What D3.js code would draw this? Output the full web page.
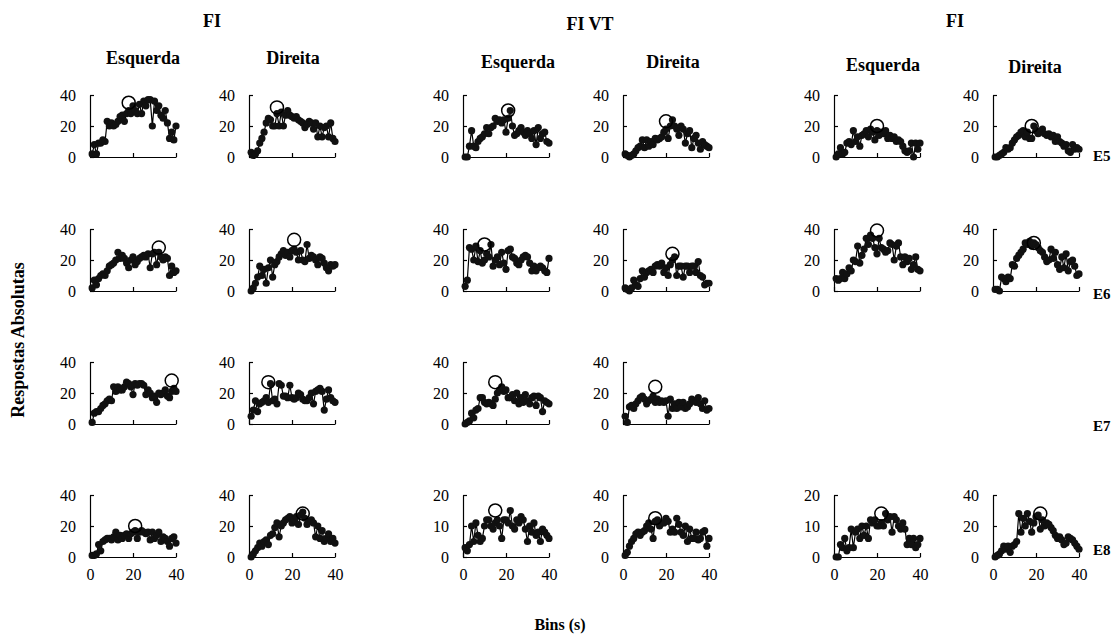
<!DOCTYPE html>
<html>
<head>
<meta charset="utf-8">
<script src="https://cdn.jsdelivr.net/npm/d3@7"></script>
<style>
  body { margin: 0; background: #fff; }
  text { font-family: 'Liberation Serif', 'Times New Roman', serif; fill: #000; }
</style>
</head>
<body>
<div id="chart"></div>
<script>
// headers
let groupTitles = ['FI', 'FI VT', 'FI']
let sideTitles = ['Esquerda', 'Direita', 'Esquerda', 'Direita', 'Esquerda', 'Direita']
let rowLabels = ['E5', 'E6', 'E7', 'E8']
let xTicks = [0, 20, 40]

// responses per bin, one array per panel (FI esq, FI dir, FIVT esq, FIVT dir, FI esq, FI dir)
let e5FiEsq = [2, 8, 2, 9, 9, 11, 10, 23, 20, 22, 20, 21, 23, 26, 27, 23, 28, 30, 28, 33, 30, 28, 34, 28, 36, 33, 37, 37, 20, 36, 30, 33, 27, 25, 30, 22, 12, 16, 11, 20]
let e5FiDir = [3, 1, 2, 4, 9, 12, 16, 22, 25, 24, 20, 20, 28, 20, 29, 20, 27, 30, 27, 26, 25, 26, 24, 23, 22, 19, 21, 23, 22, 18, 22, 13, 20, 13, 19, 20, 13, 22, 12, 10]
let e5VtEsq = [0, 0, 7, 17, 7, 6, 10, 12, 13, 15, 19, 15, 19, 20, 25, 23, 24, 22, 24, 16, 25, 30, 20, 14, 15, 17, 19, 16, 14, 17, 15, 12, 17, 8, 19, 12, 15, 16, 10, 9]
let e5VtDir = [2, 1, 0, 1, 2, 4, 6, 7, 11, 6, 11, 7, 10, 8, 12, 11, 12, 13, 16, 18, 12, 20, 24, 20, 18, 14, 20, 18, 9, 15, 17, 6, 12, 14, 9, 5, 10, 8, 7, 6]
let e5Fi2Esq = [0, 2, 6, 2, 3, 9, 10, 8, 17, 10, 13, 7, 14, 15, 17, 13, 18, 16, 11, 17, 14, 16, 15, 17, 12, 14, 12, 13, 10, 11, 10, 7, 4, 3, 4, 9, 0, 9, 5, 9]
let e5Fi2Dir = [0, 0, 1, 2, 3, 6, 5, 6, 9, 11, 13, 14, 16, 17, 13, 16, 12, 12, 20, 17, 15, 16, 18, 15, 14, 15, 13, 14, 10, 13, 10, 9, 7, 8, 4, 3, 8, 5, 6, 5]

let e6FiEsq = [2, 7, 4, 8, 10, 11, 10, 13, 16, 17, 18, 20, 25, 21, 23, 21, 18, 15, 20, 22, 17, 19, 21, 22, 23, 22, 24, 15, 24, 25, 17, 25, 22, 20, 22, 21, 10, 16, 12, 13]
let e6FiDir = [0, 2, 5, 9, 16, 10, 14, 5, 15, 20, 9, 17, 19, 22, 24, 26, 23, 25, 22, 26, 27, 25, 20, 26, 20, 19, 30, 21, 23, 22, 20, 17, 22, 21, 18, 15, 13, 17, 16, 17]
let e6VtEsq = [3, 7, 28, 27, 20, 29, 19, 26, 18, 20, 24, 22, 30, 16, 20, 22, 17, 25, 18, 14, 26, 27, 22, 21, 18, 17, 20, 22, 23, 22, 18, 13, 16, 13, 15, 16, 15, 13, 12, 21]
let e6VtDir = [2, 1, 0, 2, 7, 4, 3, 8, 13, 9, 12, 13, 14, 12, 16, 17, 16, 18, 12, 15, 10, 17, 20, 22, 10, 16, 16, 9, 16, 16, 12, 16, 16, 12, 19, 10, 9, 4, 5, 5]
let e6Fi2Esq = [8, 7, 8, 12, 8, 11, 15, 13, 20, 19, 29, 18, 23, 27, 34, 30, 36, 34, 28, 24, 34, 28, 27, 25, 26, 31, 30, 20, 29, 31, 22, 17, 22, 19, 21, 14, 17, 22, 14, 13]
let e6Fi2Dir = [1, 1, 0, 9, 8, 6, 9, 8, 17, 16, 21, 23, 25, 27, 31, 30, 32, 29, 31, 30, 28, 26, 25, 22, 19, 20, 27, 21, 25, 17, 14, 22, 15, 24, 13, 19, 20, 16, 10, 11]

let e7FiEsq = [1, 7, 8, 8, 10, 12, 13, 15, 16, 15, 24, 21, 24, 22, 22, 24, 27, 26, 24, 19, 26, 25, 26, 26, 25, 19, 22, 20, 17, 18, 14, 20, 19, 20, 22, 18, 17, 21, 23, 21]
let e7FiDir = [5, 9, 15, 8, 13, 14, 15, 17, 14, 26, 15, 16, 13, 26, 25, 18, 18, 17, 25, 17, 16, 17, 20, 19, 16, 15, 15, 17, 20, 13, 21, 22, 23, 21, 9, 16, 22, 17, 15, 14]
let e7VtEsq = [0, 1, 2, 7, 4, 9, 10, 17, 17, 14, 13, 14, 13, 12, 16, 20, 22, 24, 21, 22, 17, 17, 19, 15, 20, 13, 17, 14, 19, 15, 13, 17, 18, 12, 18, 17, 8, 15, 14, 13]
let e7VtDir = [5, 1, 11, 12, 10, 13, 15, 17, 18, 16, 13, 15, 16, 18, 14, 16, 14, 15, 14, 15, 5, 16, 10, 13, 10, 14, 11, 14, 10, 11, 13, 16, 15, 14, 17, 13, 10, 15, 9, 10]

let e8FiEsq = [1, 1, 2, 8, 4, 10, 11, 12, 12, 11, 13, 16, 11, 14, 12, 14, 15, 12, 15, 16, 17, 12, 16, 17, 16, 15, 16, 11, 16, 12, 14, 16, 10, 13, 12, 10, 7, 12, 13, 9]
let e8FiDir = [0, 2, 4, 6, 9, 7, 10, 11, 8, 14, 15, 19, 22, 13, 20, 22, 24, 25, 26, 22, 24, 26, 21, 27, 29, 25, 21, 23, 24, 22, 13, 20, 12, 17, 10, 12, 15, 10, 12, 9]
let e8VtEsq = [3, 2, 4, 10, 5, 11, 7, 5, 6, 10, 12, 12, 10, 9, 11, 12, 10, 6, 12, 12, 11, 15, 10, 9, 12, 11, 13, 12, 9, 5, 10, 8, 11, 7, 8, 5, 9, 8, 7, 6]
let e8VtDir = [1, 3, 7, 10, 12, 15, 16, 14, 16, 17, 20, 22, 18, 12, 23, 24, 20, 22, 22, 25, 23, 16, 18, 16, 25, 21, 16, 14, 20, 10, 18, 12, 12, 16, 11, 12, 16, 17, 7, 12]
let e8Fi2Esq = [0, 0, 4, 3, 6, 2, 3, 9, 3, 8, 9, 6, 10, 7, 10, 6, 12, 11, 12, 10, 10, 11, 10, 14, 12, 13, 8, 13, 12, 10, 9, 11, 9, 4, 6, 4, 6, 3, 4, 6]
let e8Fi2Dir = [0, 1, 2, 4, 7, 5, 7, 3, 7, 8, 10, 28, 16, 25, 20, 28, 23, 16, 22, 26, 27, 18, 24, 20, 22, 21, 19, 17, 14, 12, 13, 11, 8, 9, 13, 12, 11, 9, 7, 5]

// open circle = peak (bin, responses)
let peaksE5 = [[18, 35], [13, 32], [21, 30], [20, 23], [20, 20], [18, 20]]
let peaksE6 = [[32, 28], [21, 33], [10, 30], [23, 24], [20, 39], [19, 31]]
let peaksE7 = [[38, 28], [9, 27], [15, 27], [15, 24]]
let peaksE8 = [[21, 20], [25, 28], [15, 15], [15, 25], [22, 14], [22, 28]]

let yMaxE5 = [40, 40, 40, 40, 40, 40]
let yMaxE6 = [40, 40, 40, 40, 40, 40]
let yMaxE7 = [40, 40, 40, 40]
let yMaxE8 = [40, 40, 20, 40, 20, 40]

let rows = [
  { series: [e5FiEsq, e5FiDir, e5VtEsq, e5VtDir, e5Fi2Esq, e5Fi2Dir], peaks: peaksE5, yMax: yMaxE5 },
  { series: [e6FiEsq, e6FiDir, e6VtEsq, e6VtDir, e6Fi2Esq, e6Fi2Dir], peaks: peaksE6, yMax: yMaxE6 },
  { series: [e7FiEsq, e7FiDir, e7VtEsq, e7VtDir], peaks: peaksE7, yMax: yMaxE7 },
  { series: [e8FiEsq, e8FiDir, e8VtEsq, e8VtDir, e8Fi2Esq, e8Fi2Dir], peaks: peaksE8, yMax: yMaxE8 }
]

// layout
let colLeft = [90, 249, 463, 623, 834, 993]
let rowTop = [95, 229, 362, 495]
let panelW = 86
let panelH = 62

let svg = d3.select('#chart').append('svg')
  .attr('width', 1120)
  .attr('height', 635)

svg.append('rect').attr('width', 1120).attr('height', 635).attr('fill', '#fff')

let x = d3.scaleLinear().domain([0, 40]).range([0, panelW])

rows.forEach((row, r) => {
  row.series.forEach((values, c) => {
    let y = d3.scaleLinear().domain([0, row.yMax[c]]).range([panelH, 0])
    let g = svg.append('g').attr('transform', `translate(${colLeft[c]},${rowTop[r]})`)

    let xAxis = d3.axisBottom(x)
      .tickValues(xTicks)
      .tickSizeInner(-4)
      .tickSizeOuter(0)
      .tickPadding(12)
    if (r !== rows.length - 1) xAxis.tickFormat('')

    g.append('g')
      .attr('transform', `translate(0,${panelH})`)
      .call(xAxis)

    g.append('g')
      .call(d3.axisLeft(y)
        .tickValues([0, row.yMax[c] / 2, row.yMax[c]])
        .tickSizeInner(-4)
        .tickSizeOuter(0)
        .tickPadding(14))

    g.selectAll('.domain, .tick line').attr('stroke', '#000').attr('stroke-width', 1.2)
    g.selectAll('.tick text')
      .attr('font-size', 16)
      .attr('font-family', "'Liberation Serif', serif")
      .attr('fill', '#000')

    let line = d3.line()
      .x((d, i) => x(i + 1))
      .y(d => y(d))

    g.append('path')
      .datum(values)
      .attr('d', line)
      .attr('fill', 'none')
      .attr('stroke', '#000')
      .attr('stroke-width', 1.2)

    g.selectAll('.dot')
      .data(values)
      .enter().append('circle')
      .attr('cx', (d, i) => x(i + 1))
      .attr('cy', d => y(d))
      .attr('r', 3.6)
      .attr('fill', '#111')

    g.append('circle')
      .attr('cx', x(row.peaks[c][0]))
      .attr('cy', y(row.peaks[c][1]))
      .attr('r', 6.5)
      .attr('fill', 'none')
      .attr('stroke', '#000')
      .attr('stroke-width', 1.5)
  })
})

// titles
let groupX = [212, 590, 955]
let groupY = [27, 30, 27]
svg.selectAll('.group-title')
  .data(groupTitles)
  .enter().append('text')
  .attr('x', (d, i) => groupX[i])
  .attr('y', (d, i) => groupY[i])
  .attr('text-anchor', 'middle')
  .attr('font-size', 18)
  .attr('font-weight', 'bold')
  .text(d => d)

let sideX = [143, 293, 518, 673, 883, 1035]
let sideY = [64, 64, 68, 68, 71, 73]
svg.selectAll('.side-title')
  .data(sideTitles)
  .enter().append('text')
  .attr('x', (d, i) => sideX[i])
  .attr('y', (d, i) => sideY[i])
  .attr('text-anchor', 'middle')
  .attr('font-size', 18)
  .attr('font-weight', 'bold')
  .text(d => d)

let rowLabelY = [161, 299, 431, 555]
svg.selectAll('.row-label')
  .data(rowLabels)
  .enter().append('text')
  .attr('x', 1093)
  .attr('y', (d, i) => rowLabelY[i])
  .attr('font-size', 15)
  .attr('font-weight', 'bold')
  .text(d => d)

svg.append('text')
  .attr('transform', 'translate(24,340) rotate(-90)')
  .attr('text-anchor', 'middle')
  .attr('font-size', 18)
  .attr('font-weight', 'bold')
  .text('Respostas Absolutas')

svg.append('text')
  .attr('x', 560)
  .attr('y', 630)
  .attr('text-anchor', 'middle')
  .attr('font-size', 16)
  .attr('font-weight', 'bold')
  .text('Bins (s)')
</script>
</body>
</html>
